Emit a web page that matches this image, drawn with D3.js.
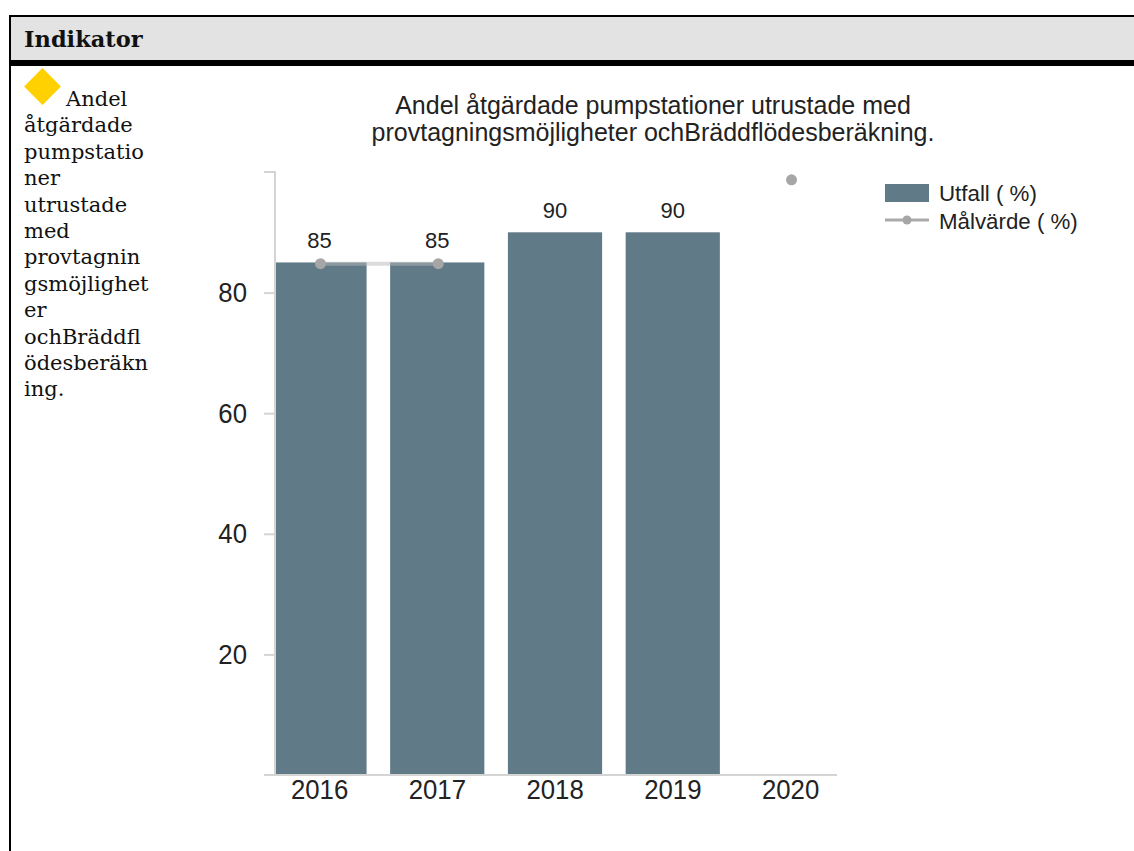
<!DOCTYPE html>
<html><head><meta charset="utf-8">
<script src="https://cdn.jsdelivr.net/npm/d3@7"></script>
<style>html,body{margin:0;background:#fff;overflow:hidden}svg{display:block}</style>
</head><body><div id="c"></div>
<script>
const years = ["2016","2017","2018","2019","2020"];
const utfall = [85,85,90,90,null];
const malvarde = [84.8,84.8,null,null,98.7];
const yTicks = [20,40,60,80];
const titleLines = ["Andel åtgärdade pumpstationer utrustade med","provtagningsmöjligheter ochBräddflödesberäkning."];
const legendLabels = ["Utfall ( %)","Målvärde ( %)"];
const headerText = "Indikator";
const cellLines = ["Andel","åtgärdade","pumpstatio","ner","utrustade","med","provtagnin","gsmöjlighet","er","ochBräddfl","ödesberäkn","ing."];

const svg = d3.select("#c").append("svg").attr("width",1134).attr("height",851);
const serif = "'DejaVu Serif'", sans = "'Liberation Sans'";

// table frame
svg.append("rect").attr("x",10).attr("y",16).attr("width",1130).attr("height",44).attr("fill","#e3e3e3");
svg.append("path").attr("d","M10,851V16H1134").attr("fill","none").attr("stroke","#000").attr("stroke-width",2);
svg.append("rect").attr("x",9).attr("y",60).attr("width",1125).attr("height",6).attr("fill","#000");
svg.append("text").attr("x",24).attr("y",47).attr("font-family",serif).attr("font-weight","bold").attr("font-size",22.5).attr("fill","#111").text(headerText);

// status diamond
svg.append("path").attr("d",d3.symbol(d3.symbolSquare,26*26)()).attr("transform","translate(42.5,86.5) rotate(45)").attr("fill","#ffd100");

// wrapped cell text
svg.append("g").attr("font-family",serif).attr("font-size",21).attr("fill","#111")
  .selectAll("text").data(cellLines).join("text")
  .attr("x",(d,i)=>i===0?66:24).attr("y",(d,i)=>106+i*26.4).text(d=>d);

// chart
const x = d3.scaleBand().domain(years).range([261.6,850.4]).paddingInner(0.2).paddingOuter(0.1);
const y = d3.scaleLinear().domain([0,100]).range([775,172]);
const cx = d => x(d)+x.bandwidth()/2;

svg.append("g").attr("font-family",sans).attr("font-size",25).attr("fill","#222").attr("text-anchor","middle")
  .selectAll("text").data(titleLines).join("text").attr("x",653).attr("y",(d,i)=>114+i*27).text(d=>d);

svg.append("clipPath").attr("id","pl").append("rect").attr("x",275).attr("y",172).attr("width",600).attr("height",603);
const rows = years.map((yr,i)=>({yr,u:utfall[i],m:malvarde[i]}));
svg.append("g").attr("clip-path","url(#pl)").selectAll("rect").data(rows.filter(d=>d.u!=null)).join("rect")
  .attr("x",d=>x(d.yr)-1).attr("width",x.bandwidth()).attr("y",d=>y(d.u)).attr("height",d=>y(0)-y(d.u)).attr("fill","#607a88");

// axes
const axisCol="#d4d4d4", sx=0.92;
const yAxis = d3.axisLeft(y).tickValues(yTicks).tickSize(11);
const gy = svg.append("g").attr("transform","translate(275,0)").call(yAxis);
gy.select(".domain").attr("stroke",axisCol).attr("stroke-width",2).attr("d","M-11,172H0V775");
gy.selectAll(".tick line").attr("stroke",axisCol).attr("stroke-width",2);
gy.selectAll(".tick text").attr("font-family",sans).attr("font-size",28).attr("fill","#222")
  .attr("x",-28/sx).attr("transform",`scale(${sx},1)`);
const gx = svg.append("g").attr("transform","translate(0,775)").call(d3.axisBottom(x).tickSize(0).tickPadding(4));
gx.select(".domain").attr("stroke",axisCol).attr("stroke-width",2).attr("d","M264,0H837");
gx.selectAll(".tick text").attr("font-family",sans).attr("font-size",28).attr("fill","#222")
  .attr("x",-1).attr("transform",`scale(${sx},1)`);

// target line and dots
const line = d3.line().defined(d=>d.m!=null).x(d=>cx(d.yr)).y(d=>y(d.m));
svg.append("path").attr("d",line(rows)).attr("fill","none").attr("stroke","#b7b7b7").attr("stroke-opacity",0.5).attr("stroke-width",4);
svg.append("g").selectAll("circle").data(rows.filter(d=>d.m!=null)).join("circle")
  .attr("cx",d=>cx(d.yr)).attr("cy",d=>y(d.m)).attr("r",5.5).attr("fill","#a6a6a6");

// value labels
svg.append("g").attr("font-family",sans).attr("font-size",22).attr("fill","#222").attr("text-anchor","middle")
  .selectAll("text").data(rows.filter(d=>d.u!=null)).join("text")
  .attr("x",d=>cx(d.yr)-1).attr("y",d=>y(d.u)-14).text(d=>d.u);

// legend
const lg = svg.append("g").attr("font-family",sans).attr("font-size",22.3).attr("fill","#222");
lg.append("rect").attr("x",885).attr("y",184).attr("width",44).attr("height",18).attr("fill","#607a88");
lg.append("line").attr("x1",885).attr("x2",929).attr("y1",220).attr("y2",220).attr("stroke","#aaa").attr("stroke-width",3);
lg.append("circle").attr("cx",907).attr("cy",220).attr("r",4.5).attr("fill","#a6a6a6");
lg.selectAll("text").data(legendLabels).join("text").attr("x",939).attr("y",(d,i)=>201+i*28).text(d=>d);
</script></body></html>
